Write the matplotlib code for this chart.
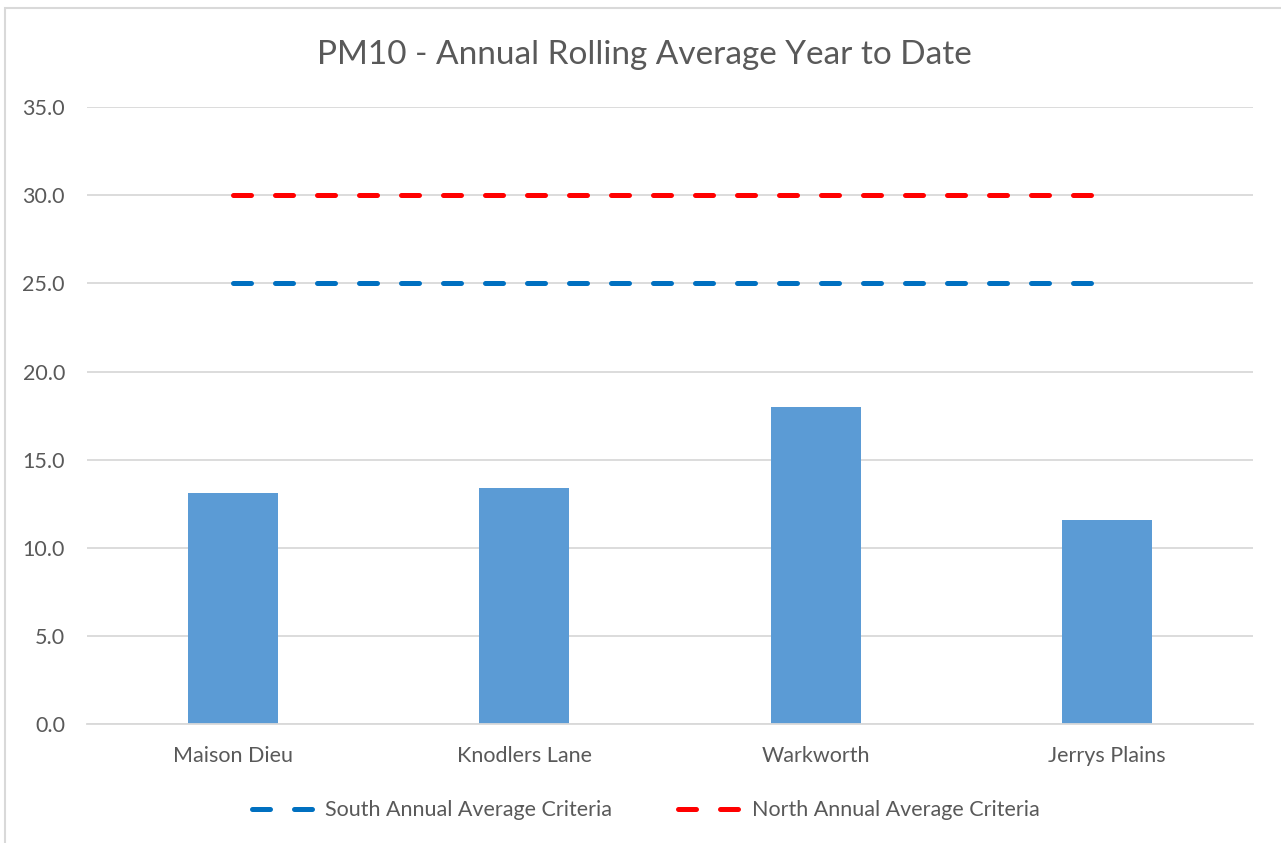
import numpy as np
import matplotlib
matplotlib.use("Agg")
import matplotlib.pyplot as plt
from matplotlib.patches import Rectangle

# Datos
sitios = ["Maison Dieu", "Knodlers Lane", "Warkworth", "Jerrys Plains"]
pm10 = [13.1, 13.4, 18.0, 11.6]
criterio_sur = [25.0, 25.0, 25.0, 25.0]
criterio_norte = [30.0, 30.0, 30.0, 30.0]
y_ticks = [0, 5, 10, 15, 20, 25, 30, 35]

plt.rcParams['font.family'] = ['Lato', 'DejaVu Sans']
gris_texto = "#595959"

fig = plt.figure(figsize=(12.81, 8.43), dpi=100)
ax = fig.add_axes([0.068, 0.141, 0.910, 0.732])

# Marco del gráfico
fig.patches.append(Rectangle((0.004, -0.01), 1.2, 1.0, transform=fig.transFigure,
                             fill=False, edgecolor="#D9D9D9", linewidth=1.5))

x = np.arange(len(sitios))
ax.bar(x, pm10, width=0.31, color="#5B9BD5", zorder=2)

ax.plot(x, criterio_sur, color="#0070C0", linewidth=3.6, dashes=(3.6, 4.8),
        dash_capstyle="round", label="South Annual Average Criteria", zorder=3)
ax.plot(x, criterio_norte, color="#FF0000", linewidth=3.6, dashes=(3.6, 4.8),
        dash_capstyle="round", label="North Annual Average Criteria", zorder=3)

ax.set_xlim(-0.5, len(sitios) - 0.5)
ax.set_ylim(0, 35)
ax.set_yticks(y_ticks)
ax.set_yticklabels([f"{v:.1f}" for v in y_ticks])
ax.set_xticks(x)
ax.set_xticklabels(sitios)

ax.yaxis.grid(True, color="#D9D9D9", linewidth=1.3, zorder=0)
ax.set_axisbelow(True)
for s in ["top", "right", "left"]:
    ax.spines[s].set_visible(False)
ax.spines["bottom"].set_color("#D9D9D9")
ax.spines["bottom"].set_linewidth(1.3)
ax.tick_params(axis="both", length=0, labelsize=15.5, labelcolor=gris_texto)
ax.tick_params(axis="y", pad=16)
ax.tick_params(axis="x", pad=16)

fig.suptitle("PM10 - Annual Rolling Average Year to Date", x=0.503, y=0.953,
             fontsize=24, color=gris_texto)

ax.legend(loc="upper center", bbox_to_anchor=(0.479, -0.092), ncol=2, frameon=False,
          fontsize=15.5, labelcolor=gris_texto, handlelength=3.3, columnspacing=3.1,
          handletextpad=0.1)

fig.savefig("out.png", dpi=100)
